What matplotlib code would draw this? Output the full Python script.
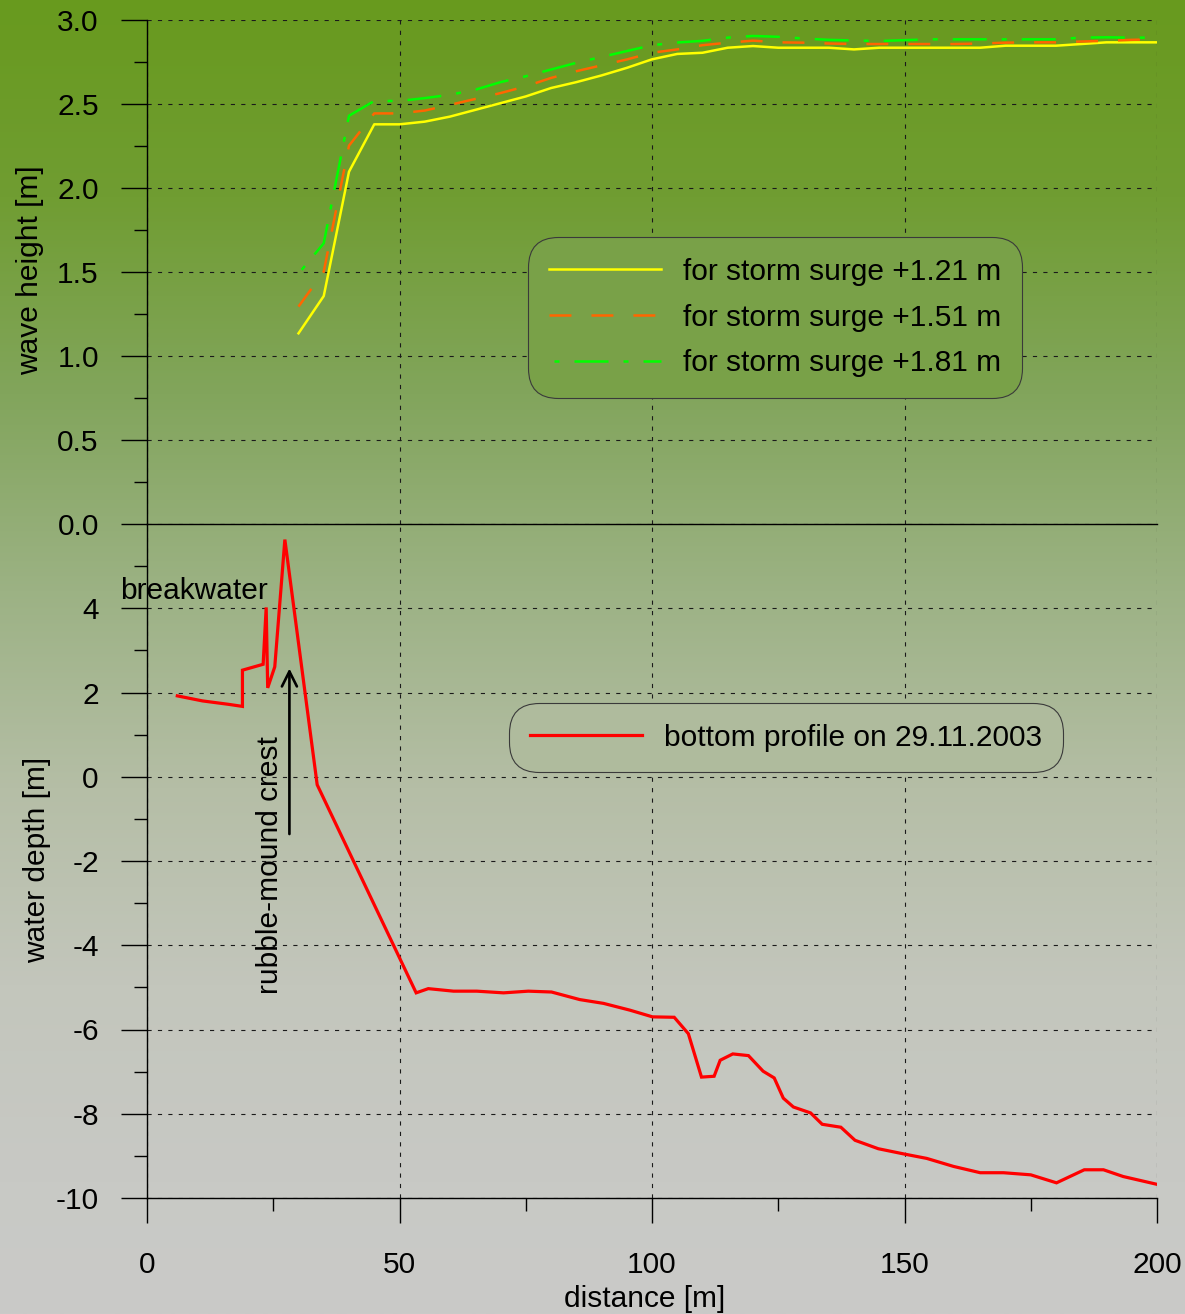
import numpy as np
import matplotlib
matplotlib.use("Agg")
import matplotlib.pyplot as plt
from matplotlib.ticker import MultipleLocator, FixedLocator, FormatStrFormatter

plt.rcParams["font.family"] = ["Liberation Sans", "DejaVu Sans"]
plt.rcParams["lines.scale_dashes"] = False
plt.rcParams["axes.unicode_minus"] = False

# ---------------------------------------------------------------- data
# wave heights along the profile for three storm-surge levels
distance_wave = [30, 35, 40, 45, 50, 55, 60, 65, 70, 75, 80, 85, 90, 95, 100,
                 105, 110, 115, 120, 125, 130, 135, 140, 145, 150, 155, 160,
                 165, 170, 175, 180, 185, 190, 195, 200]
height_121 = [1.135, 1.357, 2.097, 2.379, 2.379, 2.395, 2.425, 2.465, 2.505,
              2.545, 2.595, 2.630, 2.670, 2.715, 2.766, 2.798, 2.805, 2.835,
              2.845, 2.835, 2.835, 2.835, 2.825, 2.835, 2.835, 2.835, 2.835,
              2.835, 2.847, 2.847, 2.847, 2.857, 2.867, 2.867, 2.867]
height_151 = [1.294, 1.502, 2.252, 2.444, 2.444, 2.461, 2.495, 2.530, 2.565,
              2.605, 2.655, 2.695, 2.730, 2.765, 2.805, 2.825, 2.850, 2.865,
              2.877, 2.867, 2.865, 2.860, 2.857, 2.857, 2.857, 2.857, 2.857,
              2.860, 2.865, 2.867, 2.867, 2.872, 2.876, 2.882, 2.885]
height_181 = [1.490, 1.671, 2.430, 2.518, 2.518, 2.535, 2.555, 2.585, 2.630,
              2.665, 2.705, 2.745, 2.780, 2.815, 2.850, 2.866, 2.876, 2.895,
              2.905, 2.900, 2.890, 2.882, 2.878, 2.875, 2.880, 2.885, 2.885,
              2.885, 2.885, 2.885, 2.885, 2.895, 2.897, 2.895, 2.895]
wave_labels = ["for storm surge +1.21 m",
               "for storm surge +1.51 m",
               "for storm surge +1.81 m"]

# surveyed bottom profile
distance_bottom = [6.0, 11.0, 16.1, 18.9, 18.9, 23.0, 23.6, 23.9, 25.3, 27.3,
                   33.7, 53.3, 55.7, 60.7, 65.3, 70.6, 75.5, 80.1, 85.7, 90.4,
                   95.6, 100.1, 104.4, 107.2, 109.8, 112.3, 113.5, 116.0,
                   119.1, 122.0, 124.2, 126.0, 128.0, 131.4, 133.7, 137.4,
                   140.2, 144.8, 150.1, 154.4, 159.7, 165.0, 169.6, 175.0,
                   180.1, 185.6, 189.4, 193.3, 199.8]
depth_bottom = [1.92, 1.80, 1.72, 1.67, 2.53, 2.67, 4.02, 2.11, 2.61, 5.63,
                -0.19, -5.13, -5.03, -5.09, -5.09, -5.13, -5.09, -5.11, -5.29,
                -5.38, -5.54, -5.70, -5.71, -6.10, -7.13, -7.11, -6.73, -6.58,
                -6.62, -6.99, -7.15, -7.63, -7.84, -7.98, -8.25, -8.32, -8.63,
                -8.83, -8.96, -9.06, -9.25, -9.40, -9.40, -9.45, -9.64, -9.33,
                -9.33, -9.49, -9.67]
bottom_label = "bottom profile on 29.11.2003"

x_ticks = [0, 50, 100, 150, 200]
wave_ticks = [0.0, 0.5, 1.0, 1.5, 2.0, 2.5, 3.0]
depth_ticks = [-10, -8, -6, -4, -2, 0, 2, 4]

FS = 21.5

# ---------------------------------------------------------------- figure
W, H, DPI = 1185, 1314, 100
fig = plt.figure(figsize=(W / DPI, H / DPI), dpi=DPI)

# vertical background gradient: olive green at the top, grey at the bottom
grad_pos = [0.0, 0.15, 0.30, 0.45, 0.60, 0.75, 0.90, 1.0]
grad_rgb = np.array([(104, 154, 30), (112, 157, 50), (130, 165, 92),
                     (156, 178, 132), (181, 190, 166), (195, 198, 188),
                     (200, 201, 197), (202, 202, 200)]) / 255.0


def bg_color(frac_from_top):
    return tuple(np.interp(frac_from_top, grad_pos, grad_rgb[:, i]) for i in range(3))


rows = np.linspace(0, 1, H)
grad = np.stack([np.interp(rows, grad_pos, grad_rgb[:, i]) for i in range(3)],
                axis=-1)[:, None, :]
bg = fig.add_axes([0, 0, 1, 1], zorder=-10)
bg.imshow(grad, aspect="auto", extent=[0, 1, 0, 1], interpolation="bilinear")
bg.axis("off")

left, width = 147 / W, 1010 / W
ax_top = fig.add_axes([left, (H - 524) / H, width, 504 / H])
ax_bot = fig.add_axes([left, (H - 1198) / H, width, 674 / H])

grid_kw = dict(linestyle=(0, (3.0, 4.5)), linewidth=0.8, color="#1a1a1a")

for ax in (ax_top, ax_bot):
    ax.set_facecolor("none")
    ax.set_xlim(0, 200)
    ax.spines["top"].set_visible(False)
    ax.spines["right"].set_visible(False)
    for s in ("left", "bottom"):
        ax.spines[s].set_linewidth(1.0)
        ax.spines[s].set_color("black")
    ax.set_axisbelow(True)
    ax.xaxis.set_major_locator(FixedLocator(x_ticks))
    ax.xaxis.set_minor_locator(FixedLocator([25, 75, 125, 175]))
    ax.tick_params(axis="y", which="major", direction="out", length=18.7,
                   width=1.0, pad=16.0, labelsize=FS, colors="black")
    ax.tick_params(axis="y", which="minor", direction="out", length=9.4,
                   width=1.0)
    ax.grid(True, which="major", **grid_kw)

# ---- upper panel: wave height
ax_top.set_ylim(0, 3.0)
ax_top.yaxis.set_major_locator(FixedLocator(wave_ticks))
ax_top.yaxis.set_minor_locator(MultipleLocator(0.25))
ax_top.yaxis.set_major_formatter(FormatStrFormatter("%.1f"))
ax_top.tick_params(axis="x", which="both", length=0, labelbottom=False)

ax_top.plot(distance_wave, height_121, color="#ffff00", lw=1.8,
            label=wave_labels[0])
ax_top.plot(distance_wave, height_151, color="#ff6600", lw=1.8,
            dashes=(15.8, 14.4), label=wave_labels[1])
ax_top.plot(distance_wave, height_181, color="#00ff00", lw=1.8,
            linestyle=(31.7, (24.5, 10.8, 3.6, 10.8)), label=wave_labels[2])

leg_kw = dict(loc="upper left", bbox_transform=fig.transFigure,
              borderaxespad=0, fontsize=FS, handlelength=3.75,
              handletextpad=0.76, borderpad=0.69, labelspacing=0.6,
              fancybox=True, framealpha=1, edgecolor="#3a3a3a")
leg1 = ax_top.legend(bbox_to_anchor=(528 / W, 1 - 237 / H),
                     facecolor=bg_color(300 / H), **leg_kw)
leg1.get_frame().set_boxstyle("round,pad=0,rounding_size=1.0")
leg1.get_frame().set_linewidth(0.8)

# ---- lower panel: bottom profile
ax_bot.set_ylim(-10, 6)
ax_bot.yaxis.set_major_locator(FixedLocator(depth_ticks))
ax_bot.yaxis.set_minor_locator(FixedLocator([-9, -7, -5, -3, -1, 1, 3, 5]))
ax_bot.tick_params(axis="x", which="major", direction="out", length=18,
                   width=1.0, pad=20, labelsize=FS, colors="black")
ax_bot.tick_params(axis="x", which="minor", direction="out", length=9,
                   width=1.0)

ax_bot.plot(distance_bottom, depth_bottom, color="#ff0000", lw=2.3,
            solid_joinstyle="miter", label=bottom_label)

leg2 = ax_bot.legend(bbox_to_anchor=(509 / W, 1 - 703 / H),
                     facecolor=bg_color(738 / H), **leg_kw)
leg2.get_frame().set_boxstyle("round,pad=0,rounding_size=1.0")
leg2.get_frame().set_linewidth(0.8)

ax_bot.text(-5.3, 4.4, "breakwater", fontsize=FS, ha="left", va="center",
            clip_on=False)
ax_bot.text(24.4, -2.1, "rubble-mound crest", fontsize=FS, rotation=90,
            ha="center", va="center")
ax_bot.annotate("", xy=(28.2, 2.57), xytext=(28.2, -1.36),
                arrowprops=dict(arrowstyle="->", lw=1.9, color="black",
                                mutation_scale=27, shrinkA=0, shrinkB=0))

# ---- axis titles
fig.text(30 / W, 1 - 270 / H, "wave height [m]", rotation=90, fontsize=FS,
         ha="center", va="center")
fig.text(37 / W, 1 - 860 / H, "water depth [m]", rotation=90, fontsize=FS,
         ha="center", va="center")
fig.text(645 / W, 1 - 1299 / H, "distance [m]", fontsize=FS,
         ha="center", va="center")

fig.savefig("out.png", dpi=DPI)
